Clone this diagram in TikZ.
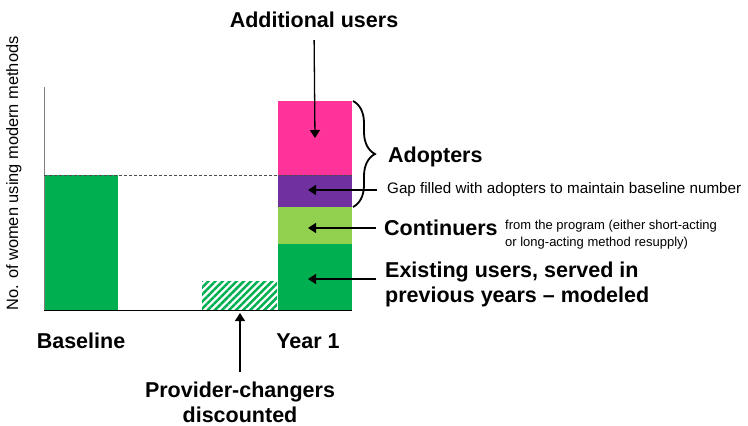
\documentclass[tikz,border=0pt]{standalone}
\usepackage{fontspec}
\setmainfont{Liberation Sans}
\usetikzlibrary{arrows.meta,patterns.meta,decorations.pathreplacing}
\definecolor{pinkc}{HTML}{FF3399}
\definecolor{purplec}{HTML}{7030A0}
\definecolor{lgreenc}{HTML}{92D050}
\definecolor{greenc}{HTML}{00B050}
\begin{document}
\begin{tikzpicture}[x=1pt,y=-1pt,
  big/.style={font=\fontsize{21.5}{25}\selectfont\bfseries, inner sep=0pt},
  small/.style={font=\fontsize{13}{17}\selectfont, inner sep=0pt},
  arr/.style={-{Triangle[length=8pt,width=10pt]}, line width=1.3pt, black}]
\useasboundingbox (0,0) rectangle (748,426);
% bars
\fill[greenc] (44,175) rectangle (118,310);
\fill[pattern={Lines[angle=45,distance=5pt,line width=2.5pt]}, pattern color=greenc] (202,281) rectangle (277,310);
\fill[pinkc] (278,101) rectangle (352,175);
\fill[purplec] (278,175) rectangle (352,207);
\fill[lgreenc] (278,207) rectangle (352,244);
\fill[greenc] (278,244) rectangle (352,310);
% axes
\draw[gray, line width=0.9pt] (44,87) -- (44,310);
\draw[black, line width=0.9pt] (44,310) -- (352,310);
\draw[black!70, dashed, dash pattern=on 3pt off 2pt, line width=0.7pt] (44,175) -- (352,175);
% brace
\draw[decorate, decoration={brace, amplitude=22pt}, line width=1.8pt] (353,101) -- (353,207);
% labels
\node[font=\fontsize{16.4}{18}\selectfont, rotate=90, anchor=base, inner sep=0pt] (ylab) at (18,173.5) {No. of women using modern methods};
\node[big] (addl) at (314,20) {Additional users};
\node[big, anchor=west] (adopt) at (388,157) {Adopters};
\node[font=\fontsize{15.2}{18}\selectfont, anchor=west, inner sep=0pt] (gap) at (387,190) {Gap filled with adopters to maintain baseline number};
\node[big, anchor=west] (cont) at (384,228) {Continuers};
\node[small, anchor=west, align=left] (contnote) at (505,235) {from the program (either short-acting\\or long-acting method resupply)};
\node[big, anchor=west, align=left] (exist) at (385,284) {Existing users, served in\\previous years -- modeled};
\node[big] (base) at (81,341) {Baseline};
\node[big] (year) at (308,341) {Year 1};
\node[big, align=center] (prov) at (240,402) {Provider-changers\\discounted};
% arrow end points
\coordinate (addtip) at (315,138);
\coordinate (gaptip) at (308,190);
\coordinate (conttip) at (308,228);
\coordinate (exstart) at (376,279);
\coordinate (extip) at (308,279);
\coordinate (provtip) at (240,313);
% arrows
\draw[arr, shorten <=12pt] (addl.south) -- (addtip);
\draw[arr, shorten <=10pt] (gap.west) -- (gaptip);
\draw[arr, shorten <=8pt] (cont.west) -- (conttip);
\draw[arr] (exstart) -- (extip);
\draw[arr, shorten <=9pt] (prov.north) -- (provtip);
\end{tikzpicture}
\end{document}
